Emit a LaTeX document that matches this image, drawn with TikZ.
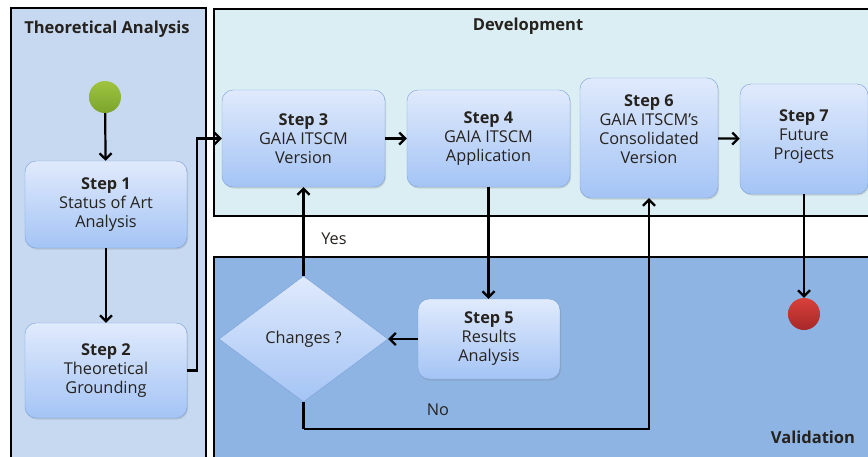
\documentclass[tikz,border=0pt]{standalone}
\usepackage{fontspec}
\setmainfont{Open Sans}
\usepackage{xcolor}
\usetikzlibrary{positioning, arrows.meta, shapes.geometric, calc, shadows}

\definecolor{theofill}{RGB}{198,217,241}
\definecolor{devfill}{RGB}{219,238,244}
\definecolor{valfill}{RGB}{141,180,226}
\definecolor{boxtop}{RGB}{224,234,252}
\definecolor{boxbot}{RGB}{164,196,245}
\definecolor{boxline}{RGB}{122,160,214}
\definecolor{textdark}{RGB}{38,34,30}
\definecolor{startgreen}{RGB}{160,196,64}
\definecolor{startdark}{RGB}{122,164,44}
\definecolor{endred}{RGB}{216,64,58}
\definecolor{enddark}{RGB}{166,40,40}

\begin{document}
\begin{tikzpicture}[x=1pt, y=-1pt,
  lane/.style={draw=black, line width=2.4pt},
  lanetitle/.style={font=\bfseries\fontsize{16.5}{19}\selectfont, text=textdark},
  stepbox/.style={draw=boxline, rounded corners=11pt, top color=boxtop, bottom color=boxbot,
    align=center, inner sep=0pt, text=textdark, font=\fontsize{16.3}{19}\selectfont,
    drop shadow={opacity=0.25, shadow xshift=1pt, shadow yshift=-1.5pt}},
  decision/.style={diamond, aspect=1.34, draw=boxline, top color=boxtop, bottom color=boxbot,
    inner sep=0pt, text=textdark, font=\fontsize{16.3}{19}\selectfont},
  flow/.style={draw=black, line width=2.2pt, -{Straight Barb[length=6pt,width=12pt]}},
  link/.style={draw=black, line width=2.2pt},
  tag/.style={text=textdark, font=\fontsize{16.3}{19}\selectfont}]
\useasboundingbox (0,0) rectangle (868,456);

\draw[lane, fill=theofill] (11,8) rectangle (206,480);
\draw[lane, fill=devfill] (214,9) rectangle (890,216);
\draw[lane, fill=valfill] (214,257) rectangle (890,480);

\node[lanetitle] (theotitle) at (107,29) {Theoretical Analysis};
\node[lanetitle] (devtitle) at (528,26) {Development};
\node[lanetitle] (valtitle) at (813,437) {Validation};

\node[circle, minimum size=32pt, inner sep=0pt, top color=startgreen, bottom color=startdark] (start) at (105,97) {};
\node[stepbox, minimum width=162pt, minimum height=87pt] (s1) at (106,204.5) {\textbf{Step 1}\\Status of Art\\Analysis};
\node[stepbox, minimum width=162pt, minimum height=95pt] (s2) at (106,370.5) {\textbf{Step 2}\\Theoretical\\Grounding};
\node[stepbox, minimum width=163pt, minimum height=97pt] (s3) at (303.5,138.5) {\textbf{Step 3}\\GAIA ITSCM\\Version};
\node[stepbox, minimum width=163pt, minimum height=97pt] (s4) at (488.5,138.5) {\textbf{Step 4}\\GAIA ITSCM\\Application};
\node[stepbox, minimum width=138pt, minimum height=120pt, text depth=18pt] (s6) at (649,138) {\textbf{Step 6}\\GAIA ITSCM's\\Consolidated\\Version};
\node[stepbox, minimum width=128pt, minimum height=110pt, text depth=8pt] (s7) at (804,139) {\textbf{Step 7}\\Future\\Projects};
\node[stepbox, minimum width=142pt, minimum height=80pt] (s5) at (489,339) {\textbf{Step 5}\\Results\\Analysis};
\node[decision, minimum width=169pt, minimum height=126pt] (chg) at (303.5,339) {Changes ?};
\node[circle, minimum size=32pt, inner sep=0pt, top color=endred, bottom color=enddark] (stop) at (804,314) {};

\coordinate (nocorner) at (303.5,429);

\draw[flow] (start) -- (s1);
\draw[flow] (s1) -- (s2);
\draw[flow] (s2.east) -- ++(10,0) |- (s3.west);
\draw[flow] (s3) -- (s4);
\draw[flow] (s4.south) -- (s4.south |- s5.north);
\draw[flow] (s5.west) -- (chg.east);
\draw[flow] (chg.north) -- (s3.south);
\draw[link] (chg.south) -- (nocorner);
\draw[flow] (nocorner) -| (s6.south);
\draw[flow] (s6) -- (s7);
\draw[flow] (s7.south) -- (stop.north);

\node[tag] (yes) at (334,239) {Yes};
\node[tag] (no) at (438,410) {No};
\end{tikzpicture}
\end{document}
